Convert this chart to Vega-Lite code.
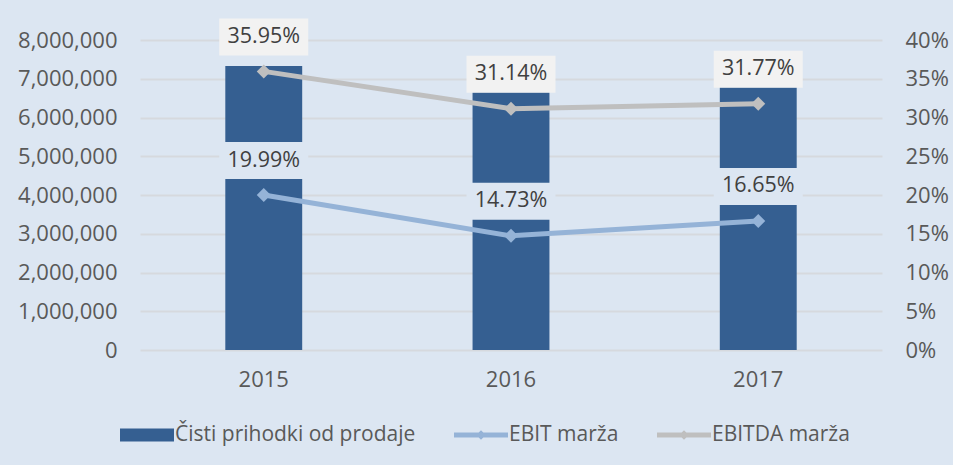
{
  "$schema": "https://vega.github.io/schema/vega-lite/v6.json",
  "width": 742,
  "height": 310,
  "autosize": {"type": "none"},
  "padding": {"left": 140, "top": 40, "right": 71, "bottom": 115},
  "background": "#dce6f2",
  "config": {
    "view": {"stroke": null},
    "font": "Open Sans",
    "axis": {"labelFont": "Open Sans", "labelFontSize": 22, "labelColor": "#595959", "ticks": false, "tickSize": 0, "domain": false, "title": null},
    "legend": {"labelFont": "Open Sans"}
  },
  "datasets": {
    "sales": [
      {"year": "2015", "revenue": 7330000, "series": "Čisti prihodki od prodaje"},
      {"year": "2016", "revenue": 6650000, "series": "Čisti prihodki od prodaje"},
      {"year": "2017", "revenue": 6780000, "series": "Čisti prihodki od prodaje"}
    ],
    "margins": [
      {"year": "2015", "series": "EBIT marža", "value": 0.1999},
      {"year": "2016", "series": "EBIT marža", "value": 0.1473},
      {"year": "2017", "series": "EBIT marža", "value": 0.1665},
      {"year": "2015", "series": "EBITDA marža", "value": 0.3595},
      {"year": "2016", "series": "EBITDA marža", "value": 0.3114},
      {"year": "2017", "series": "EBITDA marža", "value": 0.3177}
    ]
  },
  "layer": [
    {
      "data": {"name": "sales"},
      "mark": {"type": "bar", "color": "#355f91"},
      "encoding": {
        "x": {"field": "year", "type": "nominal", "scale": {"paddingInner": 0.689, "paddingOuter": 0.345}, "axis": {"labelAngle": 0, "labelPadding": 19, "grid": false}},
        "y": {"field": "revenue", "type": "quantitative", "scale": {"domain": [0, 8000000]}, "axis": {"orient": "left", "values": [0, 1000000, 2000000, 3000000, 4000000, 5000000, 6000000, 7000000, 8000000], "format": ",d", "labelPadding": 23, "grid": true, "gridColor": "#d6d9de", "gridWidth": 2}},
        "color": {
          "field": "series", "type": "nominal",
          "scale": {"domain": ["Čisti prihodki od prodaje", "EBIT marža", "EBITDA marža"], "range": ["#355f91", "#95b3d7", "#bfbfbf"]},
          "legend": {
            "title": null, "orient": "none", "legendX": -20, "legendY": 368, "direction": "horizontal",
            "symbolSize": 2916, "labelFontSize": 21, "labelColor": "#595959", "labelOffset": 1, "columnPadding": 38, "labelLimit": 500,
            "symbolStrokeWidth": 0,
            "encode": {"symbols": {"update": {
              "shape": {"signal": "datum.value === 'Čisti prihodki od prodaje' ? 'M-1,-0.24H1V0.24H-1Z' : 'M-1,-0.09H1V0.09H-1Z M-0.18,0L0,-0.18L0.18,0L0,0.18Z'"},
              "fill": {"signal": "scale('color', datum.value)"},
              "stroke": {"value": "transparent"},
              "opacity": {"value": 1},
              "fillOpacity": {"value": 1}
            }}}
          }
        }
      }
    },
    {
      "data": {"name": "margins"},
      "encoding": {
        "x": {"field": "year", "type": "nominal"},
        "y": {"field": "value", "type": "quantitative", "scale": {"domain": [0, 0.4]}, "axis": {"orient": "right", "values": [0, 0.05, 0.1, 0.15, 0.2, 0.25, 0.3, 0.35, 0.4], "format": ".0%", "labelPadding": 23, "grid": false}}
      },
      "layer": [
        {"mark": {"type": "line", "strokeWidth": 5}, "encoding": {"color": {"field": "series", "type": "nominal"}}},
        {"mark": {"type": "point", "shape": "diamond", "filled": true, "size": 196, "opacity": 1}, "encoding": {"color": {"field": "series", "type": "nominal"}}},
        {"mark": {"type": "point", "shape": "M-1,-0.416H1V0.416H-1Z", "filled": true, "size": 7921, "yOffset": -34.5, "opacity": 1, "strokeWidth": 0},
         "encoding": {"fill": {"condition": {"test": "datum.series === 'EBITDA marža'", "value": "#f2f2f2"}, "value": "#dce6f2"}}},
        {"mark": {"type": "text", "dy": -34.5, "fontSize": 21.5, "color": "#404040", "font": "Open Sans"},
         "encoding": {"text": {"field": "value", "type": "quantitative", "format": ".2%"}}}
      ]
    }
  ],
  "resolve": {"scale": {"y": "independent"}}
}
